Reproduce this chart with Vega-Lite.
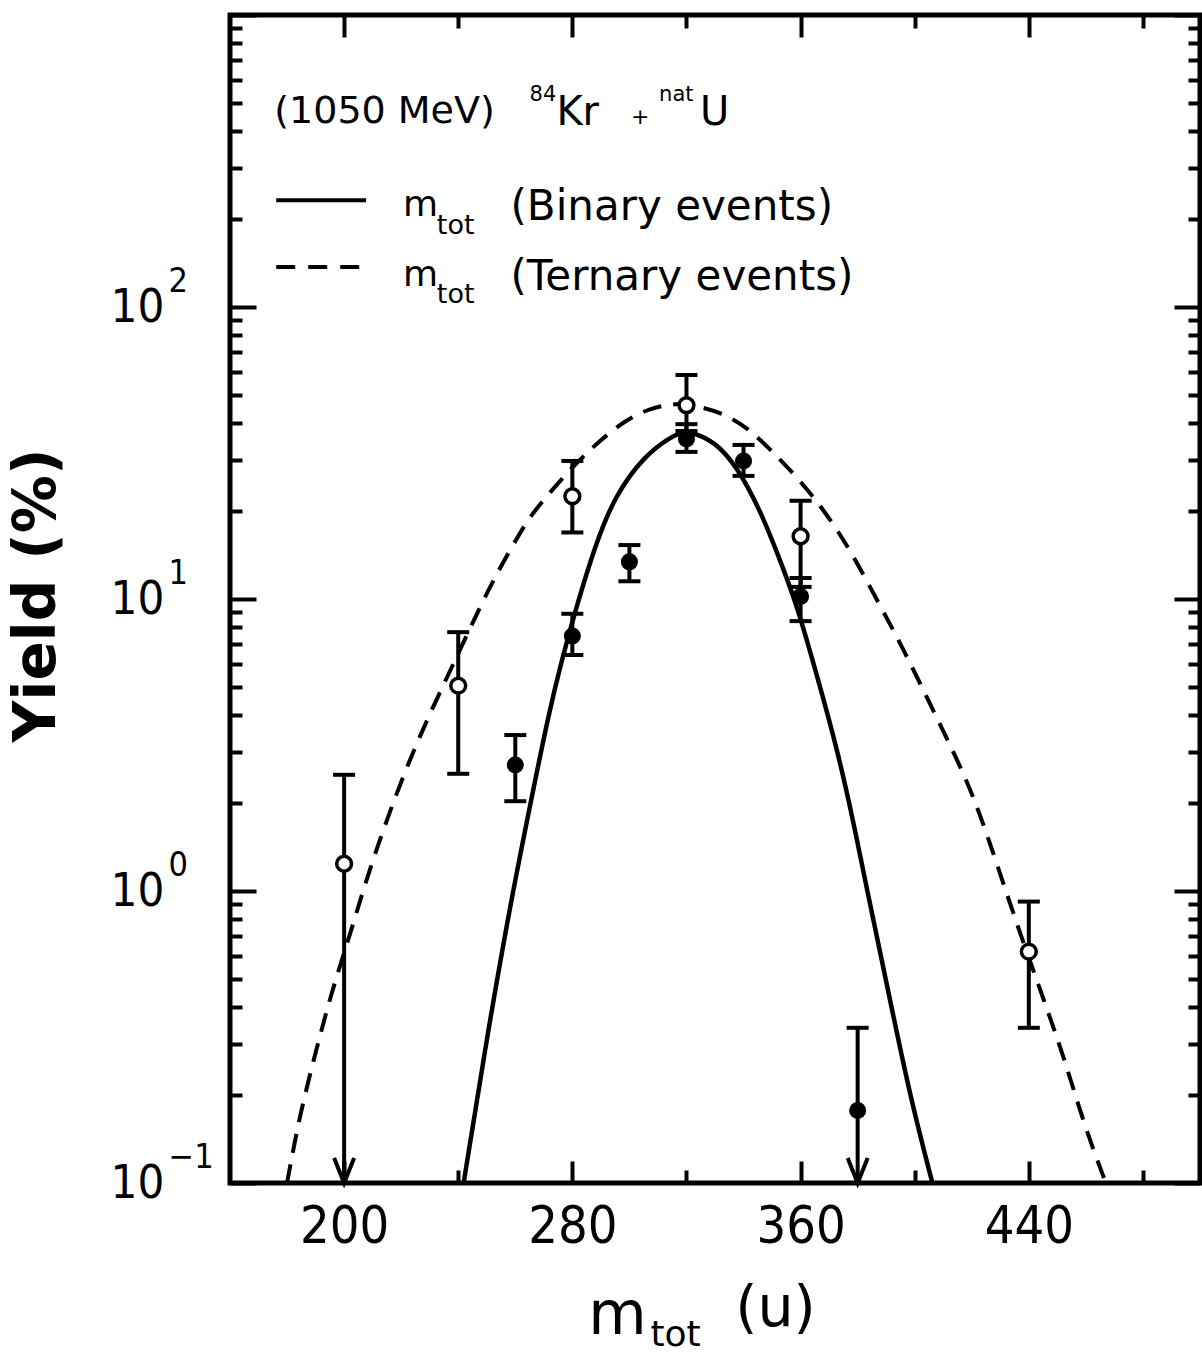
{
  "$schema": "https://vega.github.io/schema/vega-lite/v6.json",
  "width": 970,
  "height": 1168,
  "autosize": {"type": "none"},
  "padding": {"left": 230, "top": 15, "right": 2, "bottom": 171},
  "background": "white",
  "config": {
    "view": {"stroke": "black", "strokeWidth": 5},
    "axis": {"grid": false, "domain": false, "tickColor": "black", "tickWidth": 4, "labelColor": "black", "titleColor": "black",
      "labelFont": "DejaVu Sans Condensed, DejaVu Sans, sans-serif", "titleFont": "DejaVu Sans, sans-serif",
      "labelFlush": false, "labelOverlap": false, "labelBound": false},
    "text": {"font": "DejaVu Sans, sans-serif", "color": "black", "align": "left", "baseline": "middle"}
  },
  "datasets": {
    "curves": [
      {"m": 241.9, "y": 0.1, "series": "Binary"},
      {"m": 250.6, "y": 0.34, "series": "Binary"},
      {"m": 258.7, "y": 0.95, "series": "Binary"},
      {"m": 265.7, "y": 2.08, "series": "Binary"},
      {"m": 271.6, "y": 4.0, "series": "Binary"},
      {"m": 276.2, "y": 6.13, "series": "Binary"},
      {"m": 281.0, "y": 9.1, "series": "Binary"},
      {"m": 288.0, "y": 15.3, "series": "Binary"},
      {"m": 295.0, "y": 22.7, "series": "Binary"},
      {"m": 305.5, "y": 31.1, "series": "Binary"},
      {"m": 314.6, "y": 36.0, "series": "Binary"},
      {"m": 320.0, "y": 37.9, "series": "Binary"},
      {"m": 330.0, "y": 34.8, "series": "Binary"},
      {"m": 338.0, "y": 28.1, "series": "Binary"},
      {"m": 346.1, "y": 20.0, "series": "Binary"},
      {"m": 354.5, "y": 12.3, "series": "Binary"},
      {"m": 359.0, "y": 9.3, "series": "Binary"},
      {"m": 366.0, "y": 5.36, "series": "Binary"},
      {"m": 373.0, "y": 3.02, "series": "Binary"},
      {"m": 379.0, "y": 1.64, "series": "Binary"},
      {"m": 382.4, "y": 1.11, "series": "Binary"},
      {"m": 390.5, "y": 0.465, "series": "Binary"},
      {"m": 398.5, "y": 0.195, "series": "Binary"},
      {"m": 406.2, "y": 0.1, "series": "Binary"},
      {"m": 180.0, "y": 0.1, "series": "Ternary"},
      {"m": 184.2, "y": 0.167, "series": "Ternary"},
      {"m": 190.1, "y": 0.283, "series": "Ternary"},
      {"m": 195.7, "y": 0.454, "series": "Ternary"},
      {"m": 201.7, "y": 0.69, "series": "Ternary"},
      {"m": 207.6, "y": 1.08, "series": "Ternary"},
      {"m": 214.6, "y": 1.72, "series": "Ternary"},
      {"m": 223.7, "y": 2.95, "series": "Ternary"},
      {"m": 233.1, "y": 4.69, "series": "Ternary"},
      {"m": 242.6, "y": 7.36, "series": "Ternary"},
      {"m": 251.7, "y": 11.4, "series": "Ternary"},
      {"m": 261.1, "y": 16.5, "series": "Ternary"},
      {"m": 265.7, "y": 19.5, "series": "Ternary"},
      {"m": 272.7, "y": 23.5, "series": "Ternary"},
      {"m": 281.0, "y": 29.0, "series": "Ternary"},
      {"m": 289.1, "y": 34.5, "series": "Ternary"},
      {"m": 298.5, "y": 41.0, "series": "Ternary"},
      {"m": 307.6, "y": 45.1, "series": "Ternary"},
      {"m": 316.0, "y": 46.9, "series": "Ternary"},
      {"m": 324.1, "y": 45.8, "series": "Ternary"},
      {"m": 333.5, "y": 43.0, "series": "Ternary"},
      {"m": 341.5, "y": 38.5, "series": "Ternary"},
      {"m": 349.6, "y": 32.4, "series": "Ternary"},
      {"m": 359.0, "y": 26.0, "series": "Ternary"},
      {"m": 368.5, "y": 20.0, "series": "Ternary"},
      {"m": 377.6, "y": 14.6, "series": "Ternary"},
      {"m": 385.9, "y": 10.3, "series": "Ternary"},
      {"m": 394.0, "y": 7.35, "series": "Ternary"},
      {"m": 401.0, "y": 5.36, "series": "Ternary"},
      {"m": 409.0, "y": 3.70, "series": "Ternary"},
      {"m": 417.4, "y": 2.50, "series": "Ternary"},
      {"m": 423.0, "y": 1.82, "series": "Ternary"},
      {"m": 428.9, "y": 1.23, "series": "Ternary"},
      {"m": 435.9, "y": 0.765, "series": "Ternary"},
      {"m": 445.4, "y": 0.42, "series": "Ternary"},
      {"m": 452.4, "y": 0.268, "series": "Ternary"},
      {"m": 459.4, "y": 0.158, "series": "Ternary"},
      {"m": 467.0, "y": 0.1, "series": "Ternary"}
    ],
    "points": [
      {"m": 200, "y": 1.24, "lo": 0.1, "hi": 2.5, "series": "Ternary", "limit": true},
      {"m": 240, "y": 5.05, "lo": 2.52, "hi": 7.7, "series": "Ternary", "limit": false},
      {"m": 280, "y": 22.5, "lo": 16.9, "hi": 29.7, "series": "Ternary", "limit": false},
      {"m": 320, "y": 46.1, "lo": 37.6, "hi": 58.5, "series": "Ternary", "limit": false},
      {"m": 360, "y": 16.4, "lo": 11.0, "hi": 21.7, "series": "Ternary", "limit": false},
      {"m": 440, "y": 0.62, "lo": 0.34, "hi": 0.92, "series": "Ternary", "limit": false},
      {"m": 260, "y": 2.7, "lo": 2.03, "hi": 3.42, "series": "Binary", "limit": false},
      {"m": 280, "y": 7.47, "lo": 6.43, "hi": 8.9, "series": "Binary", "limit": false},
      {"m": 300, "y": 13.4, "lo": 11.5, "hi": 15.3, "series": "Binary", "limit": false},
      {"m": 320, "y": 35.3, "lo": 31.9, "hi": 39.7, "series": "Binary", "limit": false},
      {"m": 340, "y": 29.7, "lo": 26.4, "hi": 33.7, "series": "Binary", "limit": false},
      {"m": 360, "y": 10.2, "lo": 8.4, "hi": 11.8, "series": "Binary", "limit": false},
      {"m": 380, "y": 0.177, "lo": 0.1, "hi": 0.34, "series": "Binary", "limit": true}
    ]
  },
  "resolve": {"axis": {"x": "independent", "y": "independent"}},
  "layer": [
    {
      "data": {"name": "curves"},
      "transform": [{"filter": "datum.series === 'Binary'"}],
      "mark": {"type": "line", "color": "black", "strokeWidth": 4.5, "interpolate": "basis"},
      "encoding": {
        "x": {"field": "m", "type": "quantitative", "scale": {"domain": [160, 500], "nice": false, "zero": false},
          "axis": {"orient": "bottom", "values": [200, 280, 360, 440], "ticks": false, "labelFontSize": 52, "labelPadding": 18, "format": "d",
            "title": "m", "titleFontSize": 60, "titleFontWeight": "normal", "titleX": 387, "titleY": 150, "titleAlign": "center", "titleBaseline": "alphabetic"}},
        "y": {"field": "y", "type": "quantitative", "scale": {"type": "log", "domain": [0.1, 1000], "nice": false},
          "axis": {"orient": "left", "values": [0.1, 1, 10, 100], "ticks": false, "labelFontSize": 47, "labelAlign": "left", "labelBaseline": "middle", "labelPadding": 120,
            "labelExpr": "'10'",
            "title": "Yield (%)", "titleFontSize": 58, "titleFontWeight": "bold", "titleX": -193, "titleY": 580, "titleAngle": 270, "titleAlign": "center", "titleBaseline": "middle"}},
        "order": {"field": "m", "type": "quantitative"}
      }
    },
    {
      "data": {"name": "curves"},
      "transform": [{"filter": "datum.series === 'Ternary'"}],
      "mark": {"type": "line", "color": "black", "strokeWidth": 4, "strokeDash": [19, 12], "interpolate": "basis"},
      "encoding": {
        "x": {"field": "m", "type": "quantitative", "scale": {"domain": [160, 500], "nice": false, "zero": false},
          "axis": {"orient": "top", "values": [200, 280, 360, 440], "labels": false, "tickSize": -22, "title": null}},
        "y": {"field": "y", "type": "quantitative", "scale": {"type": "log", "domain": [0.1, 1000], "nice": false},
          "axis": {"orient": "right", "values": [0.1, 1, 10, 100, 1000], "labels": false, "tickSize": -26, "title": null}},
        "order": {"field": "m", "type": "quantitative"}
      }
    },
    {
      "data": {"name": "points"},
      "mark": {"type": "rule", "color": "black", "strokeWidth": 4},
      "encoding": {
        "x": {"field": "m", "type": "quantitative", "scale": {"domain": [160, 500], "nice": false, "zero": false},
          "axis": {"orient": "bottom", "values": [200, 280, 360, 440], "labels": false, "tickSize": -22,
            "title": "tot", "titleFontSize": 36, "titleFontWeight": "normal", "titleX": 445, "titleY": 162, "titleAlign": "center", "titleBaseline": "alphabetic"}},
        "y": {"field": "lo", "type": "quantitative", "scale": {"type": "log", "domain": [0.1, 1000], "nice": false},
          "axis": {"orient": "left", "values": [0.1, 1, 10, 100, 1000], "labels": false, "tickSize": -26, "title": null}},
        "y2": {"field": "hi"}
      }
    },
    {
      "data": {"name": "points"},
      "mark": {"type": "tick", "orient": "horizontal", "color": "black", "size": 22, "thickness": 4, "opacity": 1},
      "encoding": {
        "x": {"field": "m", "type": "quantitative", "scale": {"domain": [160, 500], "nice": false, "zero": false},
          "axis": {"orient": "bottom", "values": [240, 320, 400, 480], "labels": false, "tickSize": -13,
            "title": "(u)", "titleFontSize": 57, "titleFontWeight": "normal", "titleX": 545, "titleY": 142, "titleAlign": "center", "titleBaseline": "alphabetic"}},
        "y": {"field": "hi", "type": "quantitative", "scale": {"type": "log", "domain": [0.1, 1000], "nice": false},
          "axis": {"orient": "left", "values": [0.2, 0.3, 0.4, 0.5, 0.6, 0.7, 0.8, 0.9, 2, 3, 4, 5, 6, 7, 8, 9, 20, 30, 40, 50, 60, 70, 80, 90, 200, 300, 400, 500, 600, 700, 800, 900], "labels": false, "tickSize": -12, "title": null}}
      }
    },
    {
      "data": {"name": "points"},
      "transform": [{"filter": "!datum.limit"}],
      "mark": {"type": "tick", "orient": "horizontal", "color": "black", "size": 22, "thickness": 4, "opacity": 1},
      "encoding": {
        "x": {"field": "m", "type": "quantitative", "scale": {"domain": [160, 500], "nice": false, "zero": false},
          "axis": {"orient": "top", "values": [240, 320, 400, 480], "labels": false, "tickSize": -13, "title": null}},
        "y": {"field": "lo", "type": "quantitative", "scale": {"type": "log", "domain": [0.1, 1000], "nice": false},
          "axis": {"orient": "right", "values": [0.2, 0.3, 0.4, 0.5, 0.6, 0.7, 0.8, 0.9, 2, 3, 4, 5, 6, 7, 8, 9, 20, 30, 40, 50, 60, 70, 80, 90, 200, 300, 400, 500, 600, 700, 800, 900], "labels": false, "tickSize": -12, "title": null}}
      }
    },
    {
      "data": {"name": "points"},
      "transform": [{"filter": "datum.limit"}],
      "mark": {"type": "point", "shape": "M -0.8 -2 L 0 0 L 0.8 -2", "filled": false, "stroke": "black", "strokeWidth": 4, "size": 625, "opacity": 1},
      "encoding": {
        "x": {"field": "m", "type": "quantitative", "scale": {"domain": [160, 500], "nice": false, "zero": false}, "axis": null},
        "y": {"field": "lo", "type": "quantitative", "scale": {"type": "log", "domain": [0.1, 1000], "nice": false},
          "axis": {"orient": "left", "values": [0.1, 1, 10, 100], "ticks": false, "labelFontSize": 34, "labelAlign": "left", "labelBaseline": "middle", "labelPadding": 62, "labelOffset": -26,
            "labelExpr": "datum.value > 50 ? '2' : datum.value > 5 ? '1' : datum.value > 0.5 ? '0' : '−1'", "title": null}}
      }
    },
    {
      "data": {"name": "points"},
      "transform": [{"filter": "datum.series === 'Ternary'"}],
      "mark": {"type": "point", "shape": "circle", "fill": "white", "stroke": "black", "strokeWidth": 3.5, "size": 220, "opacity": 1},
      "encoding": {
        "x": {"field": "m", "type": "quantitative", "scale": {"domain": [160, 500], "nice": false, "zero": false}, "axis": null},
        "y": {"field": "y", "type": "quantitative", "scale": {"type": "log", "domain": [0.1, 1000], "nice": false}, "axis": null}
      }
    },
    {
      "data": {"name": "points"},
      "transform": [{"filter": "datum.series === 'Binary'"}],
      "mark": {"type": "point", "shape": "circle", "filled": true, "color": "black", "size": 290, "opacity": 1},
      "encoding": {
        "x": {"field": "m", "type": "quantitative", "scale": {"domain": [160, 500], "nice": false, "zero": false}, "axis": null},
        "y": {"field": "y", "type": "quantitative", "scale": {"type": "log", "domain": [0.1, 1000], "nice": false}, "axis": null}
      }
    },
    {
      "data": {"values": [{}]},
      "mark": {"type": "rule", "color": "black", "strokeWidth": 4},
      "encoding": {
        "x": {"datum": 176.2, "type": "quantitative", "axis": null},
        "x2": {"datum": 207.7},
        "y": {"datum": 232, "type": "quantitative", "axis": null}
      }
    },
    {
      "data": {"values": [{}]},
      "mark": {"type": "rule", "color": "black", "strokeWidth": 4, "strokeDash": [19, 13]},
      "encoding": {
        "x": {"datum": 176.2, "type": "quantitative", "axis": null},
        "x2": {"datum": 207.7},
        "y": {"datum": 137, "type": "quantitative", "axis": null}
      }
    },
    {
      "data": {"values": [{}]},
      "mark": {"type": "text", "text": "(1050 MeV)", "fontSize": 38},
      "encoding": {"x": {"datum": 175.5, "type": "quantitative", "axis": null}, "y": {"datum": 466, "type": "quantitative", "axis": null}}
    },
    {
      "data": {"values": [{}]},
      "mark": {"type": "text", "text": "84", "fontSize": 21},
      "encoding": {"x": {"datum": 265.0, "type": "quantitative", "axis": null}, "y": {"datum": 532, "type": "quantitative", "axis": null}}
    },
    {
      "data": {"values": [{}]},
      "mark": {"type": "text", "text": "Kr", "fontSize": 40},
      "encoding": {"x": {"datum": 274.4, "type": "quantitative", "axis": null}, "y": {"datum": 462, "type": "quantitative", "axis": null}}
    },
    {
      "data": {"values": [{}]},
      "mark": {"type": "text", "text": "+", "fontSize": 22},
      "encoding": {"x": {"datum": 300.6, "type": "quantitative", "axis": null}, "y": {"datum": 448, "type": "quantitative", "axis": null}}
    },
    {
      "data": {"values": [{}]},
      "mark": {"type": "text", "text": "nat", "fontSize": 21},
      "encoding": {"x": {"datum": 310.4, "type": "quantitative", "axis": null}, "y": {"datum": 532, "type": "quantitative", "axis": null}}
    },
    {
      "data": {"values": [{}]},
      "mark": {"type": "text", "text": "U", "fontSize": 40},
      "encoding": {"x": {"datum": 324.7, "type": "quantitative", "axis": null}, "y": {"datum": 462, "type": "quantitative", "axis": null}}
    },
    {
      "data": {"values": [{}]},
      "mark": {"type": "text", "text": "m", "fontSize": 36},
      "encoding": {"x": {"datum": 220.6, "type": "quantitative", "axis": null}, "y": {"datum": 223, "type": "quantitative", "axis": null}}
    },
    {
      "data": {"values": [{}]},
      "mark": {"type": "text", "text": "tot", "fontSize": 27},
      "encoding": {"x": {"datum": 232.5, "type": "quantitative", "axis": null}, "y": {"datum": 190, "type": "quantitative", "axis": null}}
    },
    {
      "data": {"values": [{}]},
      "mark": {"type": "text", "text": "(Binary events)", "fontSize": 42},
      "encoding": {"x": {"datum": 258.3, "type": "quantitative", "axis": null}, "y": {"datum": 220, "type": "quantitative", "axis": null}}
    },
    {
      "data": {"values": [{}]},
      "mark": {"type": "text", "text": "m", "fontSize": 36},
      "encoding": {"x": {"datum": 220.6, "type": "quantitative", "axis": null}, "y": {"datum": 128.6, "type": "quantitative", "axis": null}}
    },
    {
      "data": {"values": [{}]},
      "mark": {"type": "text", "text": "tot", "fontSize": 27},
      "encoding": {"x": {"datum": 232.5, "type": "quantitative", "axis": null}, "y": {"datum": 110, "type": "quantitative", "axis": null}}
    },
    {
      "data": {"values": [{}]},
      "mark": {"type": "text", "text": "(Ternary events)", "fontSize": 42},
      "encoding": {"x": {"datum": 258.3, "type": "quantitative", "axis": null}, "y": {"datum": 126.6, "type": "quantitative", "axis": null}}
    }
  ]
}
